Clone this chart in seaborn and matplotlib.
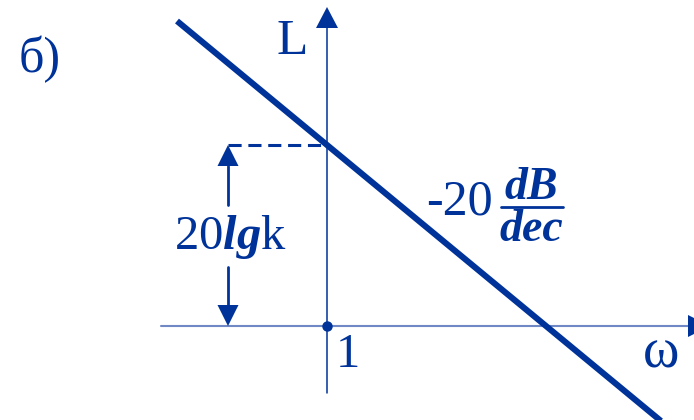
import matplotlib
matplotlib.use("Agg")
import matplotlib.pyplot as plt
import numpy as np
import pandas as pd
import seaborn as sns

sns.set_style("white")
plt.rcParams["font.family"] = ["Liberation Serif", "DejaVu Serif"]
plt.rcParams["mathtext.fontset"] = "custom"
plt.rcParams["mathtext.rm"] = "Liberation Serif"
plt.rcParams["mathtext.it"] = "Liberation Serif:italic"
plt.rcParams["mathtext.bf"] = "Liberation Serif:bold"
plt.rcParams["mathtext.bfit"] = "Liberation Serif:italic:bold"

# Asymptotic log-magnitude characteristic of an integrator with gain k
lg_omega = [-0.685, 1.65]          # lg(omega), decades
L_db = [33.7, -13.0]               # L(omega), dB  (slope -20 dB/dec)
gain_db = 20.0                     # 20 lg k at omega = 1
unit_freq = 0.0                    # lg(1)

BLUE = "#003399"
AXIS_LIGHT = "#7088c4"

# scale: 219 px per decade, 9.05 px per dB, origin at pixel (327, 326)
PX_DEC = 219.0
PX_DB = 9.05
X0, Y0 = 327.0, 326.0


def fx(px):
    return (px - X0) / PX_DEC


def fy(py):
    return (Y0 - py) / PX_DB


fig = plt.figure(figsize=(6.94, 4.20), dpi=100)
ax = fig.add_axes([0, 0, 1, 1])
ax.set_xlim(fx(0), fx(694))
ax.set_ylim(fy(420), fy(0))
ax.axis("off")

# horizontal (omega) axis with arrow head at the right edge
ax.plot([fx(161), fx(694)], [0, 0], color=AXIS_LIGHT, lw=1.5, zorder=1)
ax.fill([fx(688), fx(688), fx(710)], [fy(315), fy(337), 0],
        color=BLUE, lw=0, zorder=2, clip_on=True)

# vertical (L) axis with arrow head
ax.plot([unit_freq, unit_freq], [fy(393), fy(27)], color=BLUE, lw=1.1, zorder=1)
ax.fill([fx(316), fx(338), unit_freq], [fy(28), fy(28), fy(7)],
        color=BLUE, lw=0, zorder=2)

# point omega = 1
ax.plot([unit_freq], [0], "o", color=BLUE, ms=6.5, zorder=3)

# main asymptote
df = pd.DataFrame({"lgw": lg_omega, "L": L_db})
sns.lineplot(data=df, x="lgw", y="L", color=BLUE, lw=4.4, ax=ax,
             zorder=4, solid_capstyle="butt")

# dashed level 20 lg k
ax.plot([fx(228), unit_freq], [gain_db, gain_db], color=BLUE, lw=2.2,
        linestyle=(0, (4.3, 2.2)), zorder=2)

# double arrow marking 20 lg k
xa = fx(228)
hw = 10.5 / PX_DEC
hl = 21 / PX_DB
ax.plot([xa, xa], [gain_db - hl, fy(205)], color=BLUE, lw=2.0)
ax.plot([xa, xa], [fy(267), hl], color=BLUE, lw=2.0)
ax.fill([xa - hw, xa + hw, xa], [gain_db - hl] * 2 + [gain_db], color=BLUE, lw=0)
ax.fill([xa - hw, xa + hw, xa], [hl, hl, 0], color=BLUE, lw=0)

# labels
ax.text(fx(174), fy(249), r"20$\mathbfit{lg}$k", color=BLUE, fontsize=35,
        ha="left", va="baseline")
ax.text(fx(276), fy(54), "L", color=BLUE, fontsize=37, ha="left", va="baseline")
ax.text(fx(19), fy(72), "б)", color=BLUE, fontsize=36, ha="left", va="baseline")
ax.text(fx(336), fy(367), "1", color=BLUE, fontsize=35, ha="left", va="baseline")
ax.text(fx(643), fy(367), "ω", color=BLUE, fontsize=40, ha="left", va="baseline")

ax.text(fx(426), fy(215), "-20", color=BLUE, fontsize=36, ha="left", va="baseline")
ax.text(fx(531), fy(199), "dB", color=BLUE, fontsize=33, fontweight="bold",
        style="italic", ha="center", va="baseline")
ax.plot([fx(501), fx(563)], [fy(207), fy(207)], color=BLUE, lw=2.0)
ax.text(fx(531), fy(241), "dec", color=BLUE, fontsize=33, fontweight="bold",
        style="italic", ha="center", va="baseline")

fig.savefig("out.png", dpi=100)
